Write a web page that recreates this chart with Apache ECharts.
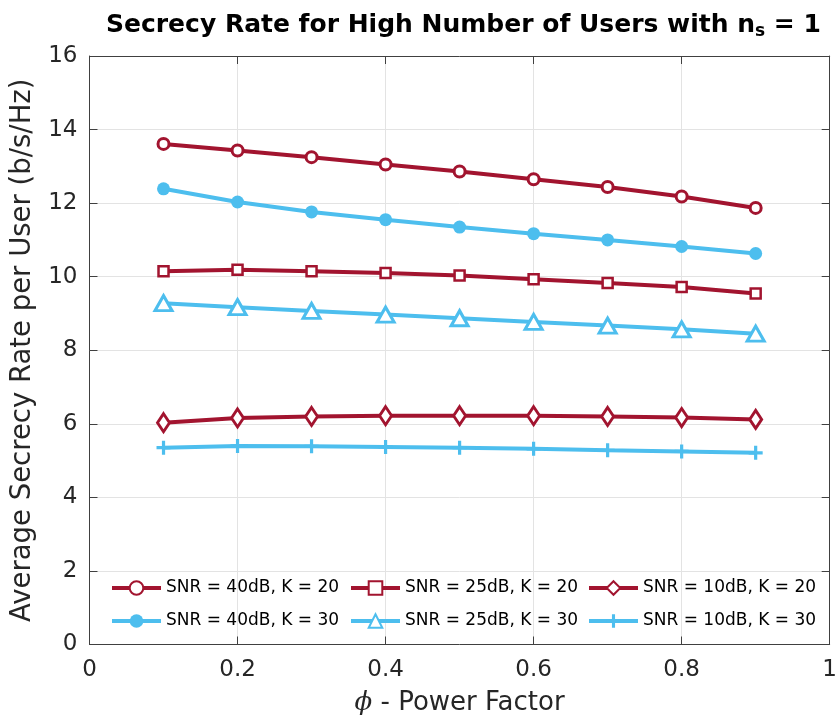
<!DOCTYPE html>
<html>
<head>
<meta charset="utf-8">
<script src="https://cdn.jsdelivr.net/npm/echarts@6/dist/echarts.min.js"></script>
<style>
  html, body { margin: 0; padding: 0; background: #ffffff; }
  #chart { width: 840px; height: 726px; }
</style>
</head>
<body>
<div id="chart"></div>
<script>
// Power factor values on the x axis
const phi = [0.1, 0.2, 0.3, 0.4, 0.5, 0.6, 0.7, 0.8, 0.9];

// Average secrecy rate per user (b/s/Hz)
const snr40k20 = [13.61, 13.43, 13.25, 13.05, 12.86, 12.65, 12.44, 12.18, 11.87];
const snr40k30 = [12.39, 12.03, 11.76, 11.55, 11.35, 11.17, 11.00, 10.82, 10.63];
const snr25k20 = [10.15, 10.19, 10.15, 10.10, 10.03, 9.93, 9.83, 9.72, 9.54];
const snr25k30 = [9.28, 9.17, 9.07, 8.97, 8.87, 8.77, 8.67, 8.57, 8.45];
const snr10k20 = [6.03, 6.16, 6.20, 6.22, 6.22, 6.22, 6.20, 6.17, 6.12];
const snr10k30 = [5.35, 5.40, 5.39, 5.37, 5.35, 5.32, 5.28, 5.25, 5.21];

const seriesNames = [
  'SNR = 40dB, K = 20', 'SNR = 25dB, K = 20', 'SNR = 10dB, K = 20',
  'SNR = 40dB, K = 30', 'SNR = 25dB, K = 30', 'SNR = 10dB, K = 30'
];

// Tick labels
const xTickLabels = ['0', '0.2', '0.4', '0.6', '0.8', '1'];
const yTickLabels = ['0', '2', '4', '6', '8', '10', '12', '14', '16'];

const RED = '#A2142F';
const BLUE = '#4DBEEE';
const AXIS = '#404040';
const TEXT = '#262626';
const FONT = 'DejaVu Sans';
const PLUS = 'path://M-1.6,-7 h3.2 v5.4 h5.4 v3.2 h-5.4 v5.4 h-3.2 v-5.4 h-5.4 v-3.2 h5.4 z';

const pairs = arr => phi.map((x, i) => [x, arr[i]]);

function lineSeries(name, values, color, symbol, size, filled, border) {
  return {
    name: name,
    type: 'line',
    data: pairs(values),
    symbol: symbol,
    symbolSize: size,
    showSymbol: true,
    lineStyle: { color: color, width: 4 },
    itemStyle: filled
      ? { color: color, borderWidth: 0 }
      : { color: '#ffffff', borderColor: color, borderWidth: border },
    emphasis: { disabled: true },
    animation: false
  };
}

const legendBase = {
  orient: 'vertical',
  top: 578,
  padding: 0,
  itemGap: 13,
  itemWidth: 49,
  itemHeight: 17,
  selectedMode: false,
  lineStyle: { width: 4 },
  textStyle: { fontFamily: FONT, fontSize: 17, color: '#000', lineHeight: 20 }
};

const chart = echarts.init(document.getElementById('chart'), null, { renderer: 'canvas' });

chart.setOption({
  backgroundColor: '#ffffff',
  title: {
    text: '{a|Secrecy Rate for High Number of Users with n}{s|s}{a| = 1}',
    left: 106,
    top: 10,
    padding: 0,
    textStyle: {
      rich: {
        a: { fontFamily: FONT, fontWeight: 'bold', fontSize: 25, lineHeight: 30, color: '#000' },
        s: { fontFamily: FONT, fontWeight: 'bold', fontSize: 17, lineHeight: 2, verticalAlign: 'bottom', color: '#000' }
      }
    }
  },
  legend: [
    Object.assign({ left: 110, data: [seriesNames[0], seriesNames[3]] }, legendBase),
    Object.assign({ left: 349, data: [seriesNames[1], seriesNames[4]] }, legendBase),
    Object.assign({ left: 587, data: [seriesNames[2], seriesNames[5]] }, legendBase)
  ],
  grid: { left: 89.5, right: 6, top: 56, bottom: 81.5, containLabel: false },
  xAxis: [
    {
      type: 'value', position: 'bottom', min: 0, max: 1, interval: 0.2,
      name: '{phi|ϕ} - Power Factor',
      nameLocation: 'middle', nameGap: 46,
      nameTextStyle: {
        fontFamily: FONT, fontSize: 26, color: TEXT,
        rich: { phi: { fontFamily: 'DejaVu Serif', fontStyle: 'italic', fontSize: 26, color: TEXT } }
      },
      axisLine: { show: true, onZero: false, lineStyle: { color: AXIS, width: 1 } },
      axisTick: { show: true, inside: true, length: 8, lineStyle: { color: AXIS } },
      axisLabel: {
        margin: 14, fontFamily: FONT, fontSize: 23, color: TEXT,
        formatter: v => xTickLabels[Math.round(v / 0.2)]
      },
      splitLine: { show: true, lineStyle: { color: '#e3e3e3', width: 1 } }
    },
    {
      type: 'value', position: 'top', min: 0, max: 1, interval: 0.2,
      axisLine: { show: true, onZero: false, lineStyle: { color: AXIS, width: 1 } },
      axisTick: { show: true, inside: true, length: 8, lineStyle: { color: AXIS } },
      axisLabel: { show: false },
      splitLine: { show: false }
    }
  ],
  yAxis: [
    {
      type: 'value', position: 'left', min: 0, max: 16, interval: 2,
      name: 'Average Secrecy Rate per User (b/s/Hz)',
      nameLocation: 'middle', nameGap: 48,
      nameTextStyle: { fontFamily: FONT, fontSize: 27.5, color: TEXT },
      axisLine: { show: true, onZero: false, lineStyle: { color: AXIS, width: 1 } },
      axisTick: { show: true, inside: true, length: 8, lineStyle: { color: AXIS } },
      axisLabel: {
        margin: 12, fontFamily: FONT, fontSize: 23, color: TEXT,
        formatter: v => yTickLabels[Math.round(v / 2)]
      },
      splitLine: { show: true, lineStyle: { color: '#e3e3e3', width: 1 } }
    },
    {
      type: 'value', position: 'right', min: 0, max: 16, interval: 2,
      axisLine: { show: true, onZero: false, lineStyle: { color: AXIS, width: 1 } },
      axisTick: { show: true, inside: true, length: 8, lineStyle: { color: AXIS } },
      axisLabel: { show: false },
      splitLine: { show: false }
    }
  ],
  series: [
    lineSeries(seriesNames[0], snr40k20, RED, 'circle', 11, false, 3),
    lineSeries(seriesNames[1], snr25k20, RED, 'rect', 10, false, 2.5),
    lineSeries(seriesNames[2], snr10k20, RED, 'diamond', [12, 18], false, 3),
    lineSeries(seriesNames[3], snr40k30, BLUE, 'circle', 13, true, 0),
    lineSeries(seriesNames[4], snr25k30, BLUE, 'triangle', [17, 15], false, 3),
    lineSeries(seriesNames[5], snr10k30, BLUE, PLUS, 14, true, 0)
  ]
});
</script>
</body>
</html>
